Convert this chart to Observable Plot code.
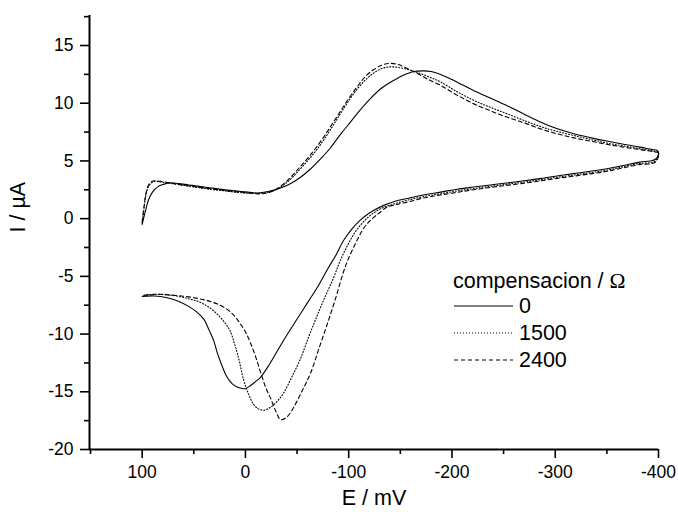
<!DOCTYPE html>
<html>
<head>
<meta charset="utf-8">
<script src="https://cdn.jsdelivr.net/npm/d3@7"></script>
<script src="https://cdn.jsdelivr.net/npm/@observablehq/plot@0.6"></script>
<style>
  html, body { margin: 0; padding: 0; background: #fff; }
  #chart { width: 678px; height: 512px; }
</style>
</head>
<body>
<div id="chart"></div>
<script>
// ---------------- data ----------------
const seriesNames = ["0", "1500", "2400"];
const legendTitle = "compensacion / ";
const xLabel = "E / mV";
const yLabel = "I / µA";

const xMajorTicks = [100, 0, -100, -200, -300, -400];
const xMinorTicks = [150, 50, -50, -150, -250, -350];
const yMajorTicks = [-20, -15, -10, -5, 0, 5, 10, 15];
const yMinorTicks = [-17.5, -12.5, -7.5, -2.5, 2.5, 7.5, 12.5, 17.5];
const xDomain = [151, -400];
const yDomain = [-20, 17.6];

// series "0" (solid)
const e0 = [100, 97, 94, 90, 85, 80, 74, 65, 55, 45, 30, 15, 0, -12, -22, -32, -42, -52, -63, -73, -82, -92, -102, -111, -121, -131, -140, -147, -155, -163, -172, -180, -190, -200, -210, -221, -237, -253, -270, -285, -300, -318, -335, -350, -366, -382, -393, -399,
  -400, -397, -392, -382, -366, -350, -334, -318, -300, -285, -270, -253, -237, -221, -205, -189, -172, -157, -145, -134, -124, -117, -111, -103, -95, -88, -80, -70, -60, -50, -40, -30, -22, -15, -10, -5, 0, 4, 8, 13, 18, 22, 27, 31, 35, 40, 47, 55, 65, 76, 88, 100];
const i0 = [-0.5, 0.6, 1.6, 2.3, 2.75, 2.95, 3.1, 3.05, 2.92, 2.8, 2.62, 2.45, 2.32, 2.22, 2.35, 2.6, 2.95, 3.5, 4.3, 5.2, 6.1, 7.3, 8.4, 9.4, 10.4, 11.25, 11.8, 12.15, 12.5, 12.75, 12.8, 12.75, 12.45, 12.05, 11.6, 11.1, 10.45, 9.8, 9.05, 8.4, 7.85, 7.35, 7.0, 6.72, 6.45, 6.2, 6.0, 5.9,
  5.6, 5.15, 5.0, 4.9, 4.6, 4.33, 4.1, 3.9, 3.68, 3.47, 3.28, 3.09, 2.92, 2.74, 2.55, 2.3, 2.05, 1.75, 1.5, 1.15, 0.7, 0.3, -0.15, -0.9, -1.9, -3.1, -4.3, -5.9, -7.3, -8.7, -10.1, -11.6, -12.8, -13.7, -14.1, -14.45, -14.73, -14.7, -14.59, -14.3, -13.7, -12.9, -11.7, -10.5, -9.7, -8.75, -8.1, -7.6, -7.15, -6.85, -6.7, -6.73];

// series "1500" (dotted)
const e1500 = [100, 98, 96, 93, 89, 84, 75, 65, 50, 35, 20, 5, -8, -20, -28, -36, -44, -52, -60, -68, -76, -84, -92, -100, -108, -116, -124, -132, -140, -148, -160, -170, -180, -189, -205, -221, -237, -253, -270, -285, -300, -318, -335, -350, -366, -382, -395, -400,
  -400, -397, -392, -382, -366, -350, -334, -318, -300, -285, -270, -253, -237, -221, -205, -189, -172, -157, -145, -132, -122, -114, -106, -99, -92, -85, -77, -69, -61, -53, -45, -37, -31, -25, -18, -12, -8, -3, 2, 6, 10, 15, 20, 27, 35, 45, 57, 70, 85, 100];
const i1500 = [-0.4, 1.0, 2.2, 2.9, 3.2, 3.2, 3.08, 2.95, 2.75, 2.55, 2.4, 2.25, 2.2, 2.25, 2.45, 2.85, 3.45, 4.2, 5.0, 5.85, 6.85, 7.95, 9.1, 10.2, 11.2, 12.0, 12.6, 13.0, 13.15, 13.1, 12.85, 12.55, 12.2, 11.84, 11.0, 10.25, 9.65, 9.1, 8.5, 8.0, 7.6, 7.2, 6.85, 6.55, 6.3, 6.05, 5.85, 5.75,
  5.5, 5.0, 4.85, 4.78, 4.5, 4.2, 3.98, 3.78, 3.56, 3.36, 3.17, 2.98, 2.8, 2.6, 2.4, 2.15, 1.9, 1.6, 1.3, 0.9, 0.35, -0.3, -1.2, -2.3, -3.6, -5.2, -6.8, -8.5, -10.3, -12.2, -13.7, -15.1, -15.8, -16.3, -16.6, -16.45, -16.1, -15.2, -13.9, -12.3, -11.0, -9.7, -9.0, -8.3, -7.7, -7.2, -6.9, -6.65, -6.55, -6.65];

// series "2400" (dashed)
const e2400 = [100, 98, 96.5, 94, 91, 87, 80, 72, 60, 47, 30, 14, 0, -12, -20, -28, -36, -44, -52, -60, -68, -76, -84, -92, -100, -108, -116, -124, -132, -139, -148, -157, -166, -176, -189, -205, -221, -237, -253, -270, -285, -300, -318, -335, -350, -366, -382, -395, -400,
  -400, -397, -393, -382, -366, -350, -334, -318, -300, -285, -270, -253, -237, -221, -205, -189, -172, -157, -145, -137, -129, -121, -114, -108, -101, -95, -87, -79, -71, -63, -55, -47, -40, -34, -30, -25, -20, -15, -10, -5, 0, 5, 10, 17, 27, 37, 50, 62, 75, 85, 95, 100];
const i2400 = [-0.3, 1.2, 2.1, 2.9, 3.2, 3.28, 3.2, 3.08, 2.9, 2.74, 2.55, 2.37, 2.25, 2.15, 2.2, 2.45, 2.95, 3.6, 4.4, 5.2, 6.1, 7.1, 8.2, 9.3, 10.4, 11.4, 12.3, 12.9, 13.3, 13.45, 13.35, 13.0, 12.6, 12.1, 11.55, 10.7, 9.96, 9.35, 8.8, 8.3, 7.8, 7.4, 7.0, 6.7, 6.44, 6.2, 5.98, 5.8, 5.7,
  5.4, 4.9, 4.76, 4.7, 4.4, 4.1, 3.88, 3.68, 3.46, 3.26, 3.07, 2.88, 2.7, 2.5, 2.28, 2.05, 1.78, 1.44, 1.2, 1.0, 0.45, -0.15, -0.9, -1.9, -3.2, -4.6, -7.0, -9.2, -11.3, -13.4, -14.9, -16.3, -17.2, -17.41, -16.8, -15.7, -14.7, -13.4, -12.0, -10.8, -9.8, -9.1, -8.5, -7.9, -7.4, -7.1, -6.85, -6.7, -6.6, -6.55, -6.6, -6.7];

// ---------------- build ----------------
const rows = [];
[[e0, i0], [e1500, i1500], [e2400, i2400]].forEach(([es, is], k) => {
  es.forEach((e, j) => rows.push({series: seriesNames[k], E: e, I: is[j]}));
});
const dashes = {"0": null, "1500": "1,2", "2400": "4,3"};

const FONT = "Arial, 'Liberation Sans', Helvetica, sans-serif";

const plot = Plot.plot({
  width: 678,
  height: 512,
  marginLeft: 89,
  marginRight: 20,
  marginTop: 15,
  marginBottom: 63,
  style: {fontFamily: FONT, fontSize: "17px", color: "#000", background: "#fff", overflow: "visible"},
  x: {domain: xDomain, label: null},
  y: {domain: yDomain, label: null},
  marks: [
    Plot.axisX(xMinorTicks, {tickSize: 5, strokeWidth: 1.6, text: null, label: null}),
    Plot.axisX(xMajorTicks, {tickSize: 9, strokeWidth: 1.6, tickPadding: 7, fontSize: 17.5, tickFormat: d => String(d), label: null}),
    Plot.axisY(yMinorTicks, {tickSize: 5, strokeWidth: 1.6, text: null, label: null}),
    Plot.axisY(yMajorTicks, {tickSize: 9, strokeWidth: 1.6, tickPadding: 7, fontSize: 17.5, tickFormat: d => String(d), label: null}),
    Plot.ruleX([xDomain[0]], {strokeWidth: 2}),
    Plot.ruleY([yDomain[0]], {strokeWidth: 2}),
    ...seriesNames.map(s => Plot.line(rows.filter(r => r.series === s), {
      x: "E", y: "I", stroke: "#000", strokeWidth: 1.1,
      strokeDasharray: dashes[s], curve: "catmull-rom"
    })),
    Plot.text([xLabel], {frameAnchor: "bottom", dy: 55, text: d => d, fontSize: 21.5, fill: "#000"}),
    Plot.text([yLabel], {frameAnchor: "left", dx: -71, rotate: -90, text: d => d, fontSize: 21.5, fill: "#000"})
  ]
});

// legend inside the frame
const svg = d3.select(plot);
const lg = svg.append("g").attr("font-family", FONT).attr("font-size", 21.5)
  .attr("fill", "#000").attr("text-anchor", "start");
const title = lg.append("text").attr("x", 453).attr("y", 288);
title.append("tspan").text(legendTitle);
title.append("tspan").attr("font-family", "'Liberation Serif', 'Times New Roman', serif").text("Ω");
seriesNames.forEach((s, k) => {
  const by = 313 + k * 27;
  lg.append("line").attr("x1", 454).attr("x2", 513).attr("y1", by - 7).attr("y2", by - 7)
    .attr("stroke", "#000").attr("stroke-width", 1).attr("stroke-dasharray", dashes[s]);
  lg.append("text").attr("x", 519).attr("y", by).text(s);
});

document.getElementById("chart").appendChild(plot);
</script>
</body>
</html>
